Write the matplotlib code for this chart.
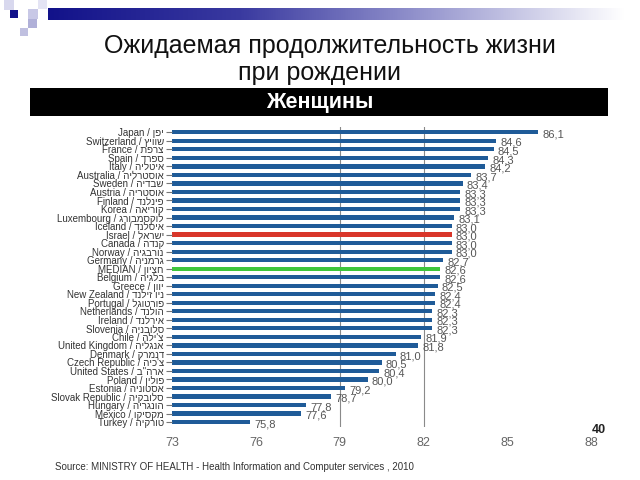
import numpy as np
import matplotlib.pyplot as plt
from matplotlib.patches import Rectangle
from matplotlib.colors import LinearSegmentedColormap

countries_en = ['Japan', 'Switzerland', 'France', 'Spain', 'Italy', 'Australia',
                'Sweden', 'Austria', 'Finland', 'Korea', 'Luxembourg', 'Iceland',
                'Israel', 'Canada', 'Norway', 'Germany', 'MEDIAN', 'Belgium',
                'Greece', 'New Zealand', 'Portugal', 'Netherlands', 'Ireland',
                'Slovenia', 'Chile', 'United Kingdom', 'Denmark', 'Czech Republic',
                'United States', 'Poland', 'Estonia', 'Slovak Republic', 'Hungary',
                'Mexico', 'Turkey']
countries_he = ['יפן', 'שוויץ', 'צרפת', 'ספרד', 'איטליה', 'אוסטרליה',
                'שבדיה', 'אוסטריה', 'פינלנד', 'קוריאה', 'לוקסמבורג', 'איסלנד',
                'ישראל', 'קנדה', 'נורבגיה', 'גרמניה', 'חציון', 'בלגיה',
                'יוון', 'ניו זילנד', 'פורטוגל', 'הולנד', 'אירלנד',
                'סלובניה', "צ'ילה", 'אנגליה', 'דנמרק', "צ'כיה",
                'ארה"ב', 'פולין', 'אסטוניה', 'סלובקיה', 'הונגריה',
                'מקסיקו', 'טורקיה']
life_exp = [86.1, 84.6, 84.5, 84.3, 84.2, 83.7, 83.4, 83.3, 83.3, 83.3, 83.1, 83.0,
            83.0, 83.0, 83.0, 82.7, 82.6, 82.6, 82.5, 82.4, 82.4, 82.3, 82.3,
            82.3, 81.9, 81.8, 81.0, 80.5, 80.4, 80.0, 79.2, 78.7, 77.8, 77.6, 75.8]
x_ticks = [73, 76, 79, 82, 85, 88]

plt.rcParams['font.family'] = ['Liberation Sans', 'DejaVu Sans']

fig = plt.figure(figsize=(6.4, 4.8), dpi=100)

# slide decoration: gradient bar, squares, black banner
deco = fig.add_axes([0, 0, 1, 1], zorder=0)
deco.set_xlim(0, 640)
deco.set_ylim(480, 0)
deco.axis('off')
grad = np.linspace(0, 1, 256).reshape(1, -1)
cmap = LinearSegmentedColormap.from_list('g', ['#12128a', '#3a3aa0', '#9a9ad0', '#ffffff'])
deco.imshow(grad, cmap=cmap, extent=[48, 625, 20, 8], aspect='auto')
for (x, y, s, c) in [(4, 0, 10, '#d8d8ee'), (10, 10, 8, '#12128a'),
                     (28, 9, 10, '#c8c8e6'), (38, 0, 9, '#e4e4f4'),
                     (28, 19, 9, '#b0b0d8'), (20, 28, 8, '#c0c0e0')]:
    deco.add_patch(Rectangle((x, y), s, s, color=c, lw=0))
deco.add_patch(Rectangle((30, 88), 578, 28, color='black', lw=0))

fig.text(0.515, 0.905, 'Ожидаемая продолжительность жизни', ha='center', va='center',
         fontsize=18, color='#111111')
fig.text(0.5, 0.848, 'при рождении', ha='center', va='center',
         fontsize=18, color='#111111')
fig.text(0.5, 0.786, 'Женщины', ha='center', va='center', fontsize=15.5,
         fontweight='bold', color='white')

ax = fig.add_axes([0.269, 0.110, 0.655, 0.625], zorder=1)
ax.patch.set_alpha(0)
y = np.arange(len(life_exp))
colors = ['#1f5b98'] * len(life_exp)
colors[countries_en.index('Israel')] = '#d9362a'
colors[countries_en.index('MEDIAN')] = '#3ec63c'
ax.barh(y, np.array(life_exp) - x_ticks[0], left=x_ticks[0], height=0.5,
        color=colors)
for xv in [79, 82]:
    ax.axvline(xv, color='#8a8a8a', lw=0.8, zorder=0)
for yi, v in zip(y, life_exp):
    ax.text(v + 0.15, yi + 0.25, f'{v:.1f}'.replace('.', ','), va='center',
            ha='left', fontsize=8, color='#555555')

labels = [f'{en} / {he[::-1]}' for en, he in zip(countries_en, countries_he)]
ax.set_yticks(y)
ax.set_yticklabels(labels, fontsize=7, color='#333333',
                   family=['Liberation Sans', 'DejaVu Sans'])
ax.set_ylim(len(life_exp) - 0.4, -0.6)
ax.set_xlim(x_ticks[0], x_ticks[-1])
ax.set_xticks(x_ticks)
ax.tick_params(axis='x', length=0, pad=7, labelsize=9, labelcolor='#666666')
ax.tick_params(axis='y', length=4, pad=2, color='#777777')
for s in ax.spines.values():
    s.set_visible(False)

fig.text(0.936, 0.105, '40', ha='center', va='center', fontsize=9,
         fontweight='bold', color='#222222')
fig.text(0.086, 0.027, 'Source: MINISTRY OF HEALTH - Health Information and Computer services , 2010',
         ha='left', va='center', fontsize=7, color='#333333')

fig.savefig('out.png', dpi=100)
